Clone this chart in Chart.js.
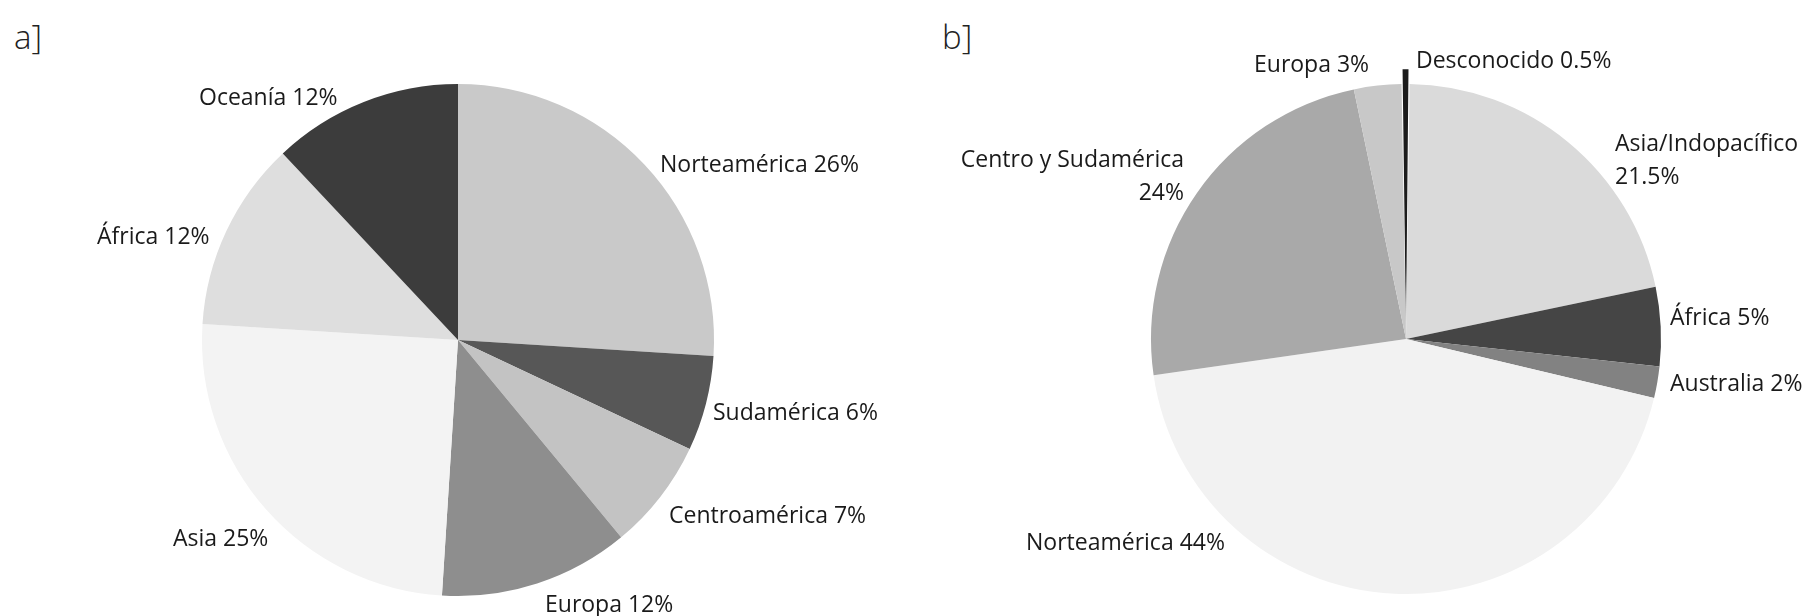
<!DOCTYPE html>
<html>
<head>
<meta charset="utf-8">
<script src="https://cdn.jsdelivr.net/npm/chart.js@4/dist/chart.umd.min.js"></script>
<style>
  html, body { margin:0; padding:0; background:#fff; }
  #wrap { position:relative; width:1810px; height:616px; overflow:hidden; font-family:"Open Sans", sans-serif; color:#1a1a1a; }
  canvas { position:absolute; }
  .lbl { position:absolute; font-size:23px; white-space:nowrap; line-height:1; transform:translateY(-50%); letter-spacing:0; }
  .panel { position:absolute; font-size:33px; font-weight:300; line-height:1; color:#222; }
</style>
</head>
<body>
<div id="wrap">
  <canvas id="ca" width="600" height="600" style="left:158px; top:40px;"></canvas>
  <canvas id="cb" width="600" height="600" style="left:1106px; top:39px;"></canvas>
</div>
<script>
// ---- Data: panel a ----
const catsA = ["Norteamérica", "Sudamérica", "Centroamérica", "Europa", "Asia", "África", "Oceanía"];
const valsA = [26, 6, 7, 12, 25, 12, 12];
const colorsA = ["#c9c9c9", "#575757", "#c3c3c3", "#8e8e8e", "#f3f3f3", "#dedede", "#3c3c3c"];

// ---- Data: panel b ----
const catsB = ["Desconocido", "Asia/Indopacífico", "África", "Australia", "Norteamérica", "Centro y Sudamérica", "Europa"];
const valsB = [0.5, 21.5, 5, 2, 44, 24, 3];
const colorsB = ["#1c1c1c", "#dadada", "#454545", "#828282", "#f2f2f2", "#a9a9a9", "#c8c8c8"];
const offsetsB = [30, 0, 0, 0, 0, 0, 0];

// ---- Label layout (positions in page px; text built from data) ----
const layoutA = [
  {x:660, y:163, align:"left"},   // Norteamérica
  {x:713, y:411, align:"left"},   // Sudamérica
  {x:669, y:514, align:"left"},   // Centroamérica
  {x:545, y:603, align:"left"},   // Europa
  {x:173, y:537, align:"left"},   // Asia
  {x:97,  y:235, align:"left"},   // África
  {x:199, y:96,  align:"left"}    // Oceanía
];
const layoutB = [
  {x:1416, y:59,  align:"left"},            // Desconocido
  {x:1615, y:142, align:"left", wrap:true}, // Asia/Indopacífico
  {x:1670, y:316, align:"left"},            // África
  {x:1670, y:382, align:"left"},            // Australia
  {x:1026, y:541, align:"left"},            // Norteamérica
  {x:1184, y:158, align:"right", wrap:true},// Centro y Sudamérica
  {x:1254, y:63,  align:"left"}             // Europa
];

const wrap = document.getElementById('wrap');
function fmt(v){ return String(v) + "%"; }
function addLabels(cats, vals, layout){
  cats.forEach((c,i)=>{
    const L = layout[i];
    const d = document.createElement('div');
    d.className = 'lbl';
    if (L.wrap) {
      d.innerHTML = c + '<br>' + fmt(vals[i]);
      d.style.lineHeight = '33px';
      d.style.transform = 'translateY(-16px)';
    } else {
      d.textContent = c + ' ' + fmt(vals[i]);
    }
    d.style.top = L.y + 'px';
    if (L.align === 'right') { d.style.right = (1810 - L.x) + 'px'; d.style.textAlign = 'right'; }
    else d.style.left = L.x + 'px';
    wrap.appendChild(d);
  });
}
function addPanel(txt, x, y){
  const d = document.createElement('div');
  d.className = 'panel'; d.textContent = txt;
  d.style.left = x + 'px'; d.style.top = y + 'px';
  wrap.appendChild(d);
}
addPanel("a]", 14, 20);
addPanel("b]", 942, 20);
addLabels(catsA, valsA, layoutA);
addLabels(catsB, valsB, layoutB);

const common = {
  responsive:false, animation:false,
  plugins:{ legend:{display:false}, tooltip:{enabled:false} },
  layout:{ padding:0 }
};
new Chart(document.getElementById('ca'), {
  type:'pie',
  data:{ labels:catsA, datasets:[{ data:valsA, backgroundColor:colorsA, borderWidth:0 }] },
  options:Object.assign({}, common, { radius:256, rotation:0 })
});
new Chart(document.getElementById('cb'), {
  type:'pie',
  data:{ labels:catsB, datasets:[{ data:valsB, backgroundColor:colorsB, borderWidth:0, offset:offsetsB }] },
  options:Object.assign({}, common, { radius:255, rotation:-1 })
});
</script>
</body>
</html>
